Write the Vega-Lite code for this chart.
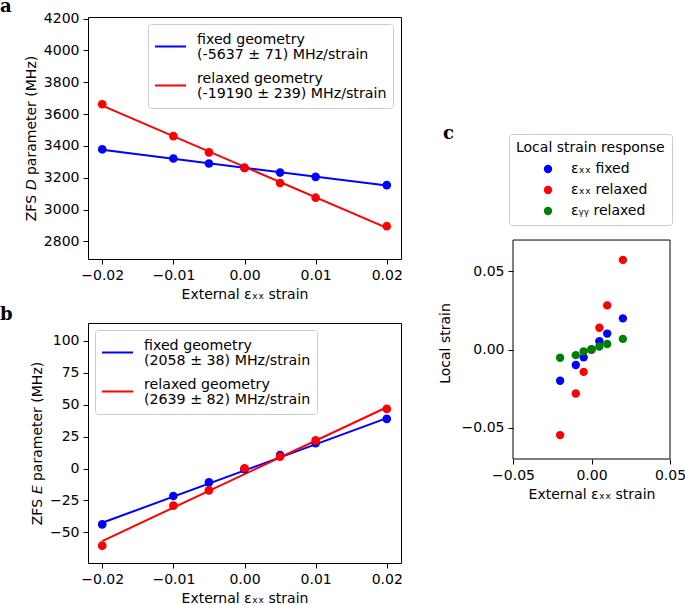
{
 "$schema": "https://vega.github.io/schema/vega-lite/v6.json",
 "padding": {"left": -1, "top": -3, "right": 0, "bottom": 0},
 "autosize": {"type": "pad"},
 "background": "white",
 "config": {
  "font": "DejaVu Sans",
  "view": {"stroke": "#000", "strokeWidth": 1},
  "axis": {"grid": false, "domain": false, "ticks": true, "tickColor": "#000", "tickSize": 5, "tickWidth": 1, "labelFontSize": 14, "labelColor": "#000", "labelPadding": 4, "labelFlush": false, "labelOverlap": false, "titleFontSize": 14, "titleFontWeight": "normal", "titleColor": "#000", "titlePadding": 5},
  "legend": {"labelFontSize": 14.2, "labelColor": "#000", "titleFontSize": 14, "titleFontWeight": "normal", "titleColor": "#000", "strokeColor": "#cccccc", "fillColor": "#ffffff", "cornerRadius": 3, "labelLimit": 400},
  "style": {"guide-label": {"lineHeight": 15.5}},
  "title": {"font": "DejaVu Serif", "fontSize": 18, "fontWeight": "bold", "color": "#000", "anchor": "start", "frame": "group"}
 },
 "datasets": {
  "a_pts": [
   {"strain": -0.02, "D": 3379, "geometry": "fixed"},
   {"strain": -0.01, "D": 3321, "geometry": "fixed"},
   {"strain": -0.005, "D": 3290, "geometry": "fixed"},
   {"strain": 0, "D": 3262, "geometry": "fixed"},
   {"strain": 0.005, "D": 3233, "geometry": "fixed"},
   {"strain": 0.01, "D": 3206, "geometry": "fixed"},
   {"strain": 0.02, "D": 3154, "geometry": "fixed"},
   {"strain": -0.02, "D": 3662, "geometry": "relaxed"},
   {"strain": -0.01, "D": 3462, "geometry": "relaxed"},
   {"strain": -0.005, "D": 3360, "geometry": "relaxed"},
   {"strain": 0, "D": 3262, "geometry": "relaxed"},
   {"strain": 0.005, "D": 3167, "geometry": "relaxed"},
   {"strain": 0.01, "D": 3075, "geometry": "relaxed"},
   {"strain": 0.02, "D": 2896, "geometry": "relaxed"}
  ],
  "a_fit": [
   {"strain": -0.02, "D": 3376, "geometry": "fixed"},
   {"strain": 0.02, "D": 3151, "geometry": "fixed"},
   {"strain": -0.02, "D": 3653, "geometry": "relaxed"},
   {"strain": 0.02, "D": 2885, "geometry": "relaxed"}
  ],
  "b_pts": [
   {"strain": -0.02, "E": -43.7, "geometry": "fixed"},
   {"strain": -0.01, "E": -21.5, "geometry": "fixed"},
   {"strain": -0.005, "E": -10.8, "geometry": "fixed"},
   {"strain": 0, "E": -0.5, "geometry": "fixed"},
   {"strain": 0.005, "E": 10.6, "geometry": "fixed"},
   {"strain": 0.01, "E": 19.8, "geometry": "fixed"},
   {"strain": 0.02, "E": 38.9, "geometry": "fixed"},
   {"strain": -0.02, "E": -60.4, "geometry": "relaxed"},
   {"strain": -0.01, "E": -29.1, "geometry": "relaxed"},
   {"strain": -0.005, "E": -17.1, "geometry": "relaxed"},
   {"strain": 0, "E": 0.2, "geometry": "relaxed"},
   {"strain": 0.005, "E": 9.3, "geometry": "relaxed"},
   {"strain": 0.01, "E": 22.1, "geometry": "relaxed"},
   {"strain": 0.02, "E": 46.7, "geometry": "relaxed"}
  ],
  "b_fit": [
   {"strain": -0.02, "E": -42.5, "geometry": "fixed"},
   {"strain": 0.02, "E": 39.5, "geometry": "fixed"},
   {"strain": -0.02, "E": -56.8, "geometry": "relaxed"},
   {"strain": 0.02, "E": 48.0, "geometry": "relaxed"}
  ],
  "c_pts": [
   {"external": -0.02, "local": -0.02, "component": "εₓₓ fixed"},
   {"external": -0.01, "local": -0.0099, "component": "εₓₓ fixed"},
   {"external": -0.005, "local": -0.005, "component": "εₓₓ fixed"},
   {"external": 0, "local": 0, "component": "εₓₓ fixed"},
   {"external": 0.005, "local": 0.0053, "component": "εₓₓ fixed"},
   {"external": 0.01, "local": 0.0102, "component": "εₓₓ fixed"},
   {"external": 0.02, "local": 0.0199, "component": "εₓₓ fixed"},
   {"external": -0.02, "local": -0.0547, "component": "εₓₓ relaxed"},
   {"external": -0.01, "local": -0.0281, "component": "εₓₓ relaxed"},
   {"external": -0.005, "local": -0.0143, "component": "εₓₓ relaxed"},
   {"external": 0, "local": 0, "component": "εₓₓ relaxed"},
   {"external": 0.005, "local": 0.0139, "component": "εₓₓ relaxed"},
   {"external": 0.01, "local": 0.0282, "component": "εₓₓ relaxed"},
   {"external": 0.02, "local": 0.0573, "component": "εₓₓ relaxed"},
   {"external": -0.02, "local": -0.0053, "component": "εᵧᵧ relaxed"},
   {"external": -0.01, "local": -0.0036, "component": "εᵧᵧ relaxed"},
   {"external": -0.005, "local": -0.0012, "component": "εᵧᵧ relaxed"},
   {"external": 0, "local": 0, "component": "εᵧᵧ relaxed"},
   {"external": 0.005, "local": 0.0019, "component": "εᵧᵧ relaxed"},
   {"external": 0.01, "local": 0.0035, "component": "εᵧᵧ relaxed"},
   {"external": 0.02, "local": 0.0068, "component": "εᵧᵧ relaxed"}
  ],
  "c_frame": [
   {"part": "plot frame"}
  ]
 },
 "hconcat": [
  {
   "vconcat": [
    {
     "width": 313,
     "height": 242,
     "title": {"text": "a", "dx": -88, "offset": -4},
     "encoding": {
      "x": {"field": "strain", "type": "quantitative", "scale": {"domain": [-0.022, 0.022], "nice": false, "zero": false}, "axis": {"values": [-0.02, -0.01, 0, 0.01, 0.02], "format": ".2f", "title": "External εₓₓ strain"}},
      "y": {"field": "D", "type": "quantitative", "scale": {"domain": [2690, 4210], "nice": false, "zero": false}, "axis": {"values": [2800, 3000, 3200, 3400, 3600, 3800, 4000, 4200], "format": "d", "title": "ZFS 𝘋 parameter (MHz)"}},
      "color": {"field": "geometry", "type": "nominal", "scale": {"domain": ["fixed", "relaxed"], "range": ["#0000ff", "#ff0000"]}, "legend": {"orient": "none", "legendX": 60, "legendY": 7, "title": null, "symbolType": "stroke", "symbolSize": 961, "symbolStrokeWidth": 2, "labelOffset": 10, "labelBaseline": "bottom", "padding": 6, "rowPadding": 6, "labelExpr": "datum.label == 'fixed' ? ['fixed geometry', '(-5637 ± 71) MHz/strain'] : ['relaxed geometry', '(-19190 ± 239) MHz/strain']"}}
     },
     "layer": [
      {"data": {"name": "a_fit"}, "mark": {"type": "line", "strokeWidth": 2}},
      {"data": {"name": "a_pts"}, "mark": {"type": "circle", "size": 75, "opacity": 1}}
     ]
    },
    {
     "width": 313,
     "height": 240,
     "title": {"text": "b", "dx": -88, "offset": -1},
     "encoding": {
      "x": {"field": "strain", "type": "quantitative", "scale": {"domain": [-0.022, 0.022], "nice": false, "zero": false}, "axis": {"values": [-0.02, -0.01, 0, 0.01, 0.02], "format": ".2f", "title": "External εₓₓ strain"}},
      "y": {"field": "E", "type": "quantitative", "scale": {"domain": [-74, 114], "nice": false, "zero": false}, "axis": {"values": [-50, -25, 0, 25, 50, 75, 100], "format": "d", "title": "ZFS 𝘌 parameter (MHz)"}},
      "color": {"field": "geometry", "type": "nominal", "scale": {"domain": ["fixed", "relaxed"], "range": ["#0000ff", "#ff0000"]}, "legend": {"orient": "none", "legendX": 7, "legendY": 7, "title": null, "symbolType": "stroke", "symbolSize": 961, "symbolStrokeWidth": 2, "labelOffset": 10, "labelBaseline": "bottom", "padding": 6, "rowPadding": 6, "labelExpr": "datum.label == 'fixed' ? ['fixed geometry', '(2058 ± 38) MHz/strain'] : ['relaxed geometry', '(2639 ± 82) MHz/strain']"}}
     },
     "layer": [
      {"data": {"name": "b_fit"}, "mark": {"type": "line", "strokeWidth": 2}},
      {"data": {"name": "b_pts"}, "mark": {"type": "circle", "size": 75, "opacity": 1}}
     ]
    }
   ],
   "spacing": 3,
   "resolve": {"scale": {"color": "independent", "x": "independent", "y": "independent"}, "legend": {"color": "independent"}}
  },
  {
   "width": 157,
   "height": 442,
   "view": {"stroke": null},
   "title": {"text": "c", "dx": -70, "offset": -126},
   "layer": [
    {
     "data": {"name": "c_frame"},
     "mark": {"type": "rect", "filled": false, "color": "#000", "strokeWidth": 1},
     "encoding": {
      "x": {"datum": -0.05, "type": "quantitative", "scale": {"domain": [-0.05, 0.05], "nice": false, "zero": false}, "axis": {"values": [-0.05, 0, 0.05], "format": ".2f", "title": "External εₓₓ strain"}},
      "x2": {"datum": 0.05},
      "y": {"datum": -0.07, "type": "quantitative", "scale": {"domain": [-0.07, 0.2126], "nice": false, "zero": false}, "axis": {"values": [-0.05, 0, 0.05], "format": ".2f", "title": "Local strain", "titleX": -61, "titleY": 326}},
      "y2": {"datum": 0.07}
     }
    },
    {
     "data": {"name": "c_pts"},
     "mark": {"type": "circle", "size": 70, "opacity": 1},
     "encoding": {
      "x": {"field": "external", "type": "quantitative"},
      "y": {"field": "local", "type": "quantitative"},
      "color": {"field": "component", "type": "nominal", "scale": {"domain": ["εₓₓ fixed", "εₓₓ relaxed", "εᵧᵧ relaxed"], "range": ["#0000ff", "#ff0000", "#008000"]}, "legend": {"orient": "none", "legendX": -4, "legendY": 117, "title": "Local strain response", "symbolType": "circle", "symbolSize": 70, "symbolOffset": 25, "labelOffset": 16, "padding": 7, "rowPadding": 7, "titlePadding": 7, "labelFontSize": 14}}
     }
    }
   ]
  }
 ],
 "spacing": 35,
 "resolve": {"scale": {"color": "independent", "x": "independent", "y": "independent"}, "legend": {"color": "independent"}}
}
